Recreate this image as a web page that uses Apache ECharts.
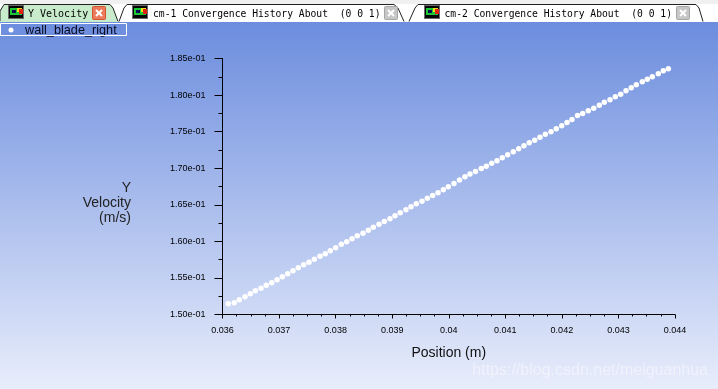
<!DOCTYPE html>
<html>
<head>
<meta charset="utf-8">
<style>html,body{margin:0;padding:0;background:#fff}#c{width:718px;height:389px}</style>
<script src="https://cdn.jsdelivr.net/npm/echarts@6/dist/echarts.min.js"></script>
</head>
<body>
<div id="c"></div>
<script>
const seriesName = 'wall_blade_right';
const positions = [
0.036103,0.036209,0.036297,0.036398,0.036491,0.036580,0.036681,0.036774,0.036870,0.036964,
0.037057,0.037153,0.037246,0.037340,0.037436,0.037529,0.037623,0.037724,0.037817,0.037906,
0.038001,0.038100,0.038196,0.038290,0.038383,0.038484,0.038578,0.038666,0.038767,0.038861,
0.038961,0.039050,0.039143,0.039244,0.039333,0.039426,0.039527,0.039621,0.039716,0.039810,
0.039904,0.039992,0.040093,0.040190,0.040287,0.040376,0.040473,0.040575,0.040664,0.040759,
0.040853,0.040947,0.041042,0.041141,0.041237,0.041330,0.041424,0.041520,0.041613,0.041707,
0.041808,0.041901,0.041997,0.042091,0.042179,0.042276,0.042368,0.042467,0.042563,0.042662,
0.042750,0.042851,0.042945,0.043040,0.043134,0.043227,0.043316,0.043422,0.043510,0.043599,
0.043705,0.043793,0.043882];
const velocities = [
0.151463,0.151600,0.152010,0.152420,0.152830,0.153240,0.153596,0.154006,0.154334,0.154744,
0.155154,0.155565,0.155975,0.156385,0.156795,0.157150,0.157561,0.157971,0.158299,0.158709,
0.159119,0.159611,0.159940,0.160350,0.160760,0.161115,0.161525,0.161936,0.162346,0.162715,
0.163084,0.163494,0.163904,0.164315,0.164725,0.165135,0.165490,0.165901,0.166270,0.166639,
0.167049,0.167459,0.167910,0.168389,0.168826,0.169209,0.169551,0.169961,0.170276,0.170686,
0.171014,0.171424,0.171834,0.172244,0.172655,0.173065,0.173475,0.173830,0.174240,0.174651,
0.174979,0.175389,0.175799,0.176250,0.176660,0.177207,0.177481,0.177850,0.178205,0.178615,
0.179026,0.179354,0.179764,0.180119,0.180584,0.180994,0.181405,0.181815,0.182170,0.182498,
0.182908,0.183319,0.183592];
const xTickLabels = ['0.036','0.037','0.038','0.039','0.04','0.041','0.042','0.043','0.044'];
const yTickLabels = ['1.50e-01','1.55e-01','1.60e-01','1.65e-01','1.70e-01','1.75e-01','1.80e-01','1.85e-01'];
const xTitle = 'Position (m)';
const yTitleLines = ['Y', 'Velocity', '(m/s)'];
const tabTitles = ['Y Velocity', 'cm-1 Convergence History About  (0 0 1)', 'cm-2 Convergence History About  (0 0 1)'];
const watermark = 'https://blog.csdn.net/meiguanhua';

const FONT = '"Liberation Sans", Arial, sans-serif';
const MONO = '"DejaVu Sans Mono", "Liberation Mono", monospace';

function icon(x) {
  return [
    {type:'rect',shape:{x:x,y:5,width:16,height:14},style:{fill:'#6b6b6b'}},
    {type:'rect',shape:{x:x+1,y:6,width:14,height:12},style:{fill:'#050505'}},
    {type:'rect',shape:{x:x+2,y:8,width:12,height:7},style:{fill:'#19c832'}},
    {type:'rect',shape:{x:x+4,y:10,width:4,height:3},style:{fill:'#0a0a50'}},
    {type:'rect',shape:{x:x+9,y:8,width:5,height:4},style:{fill:'#e8e020'}},
    {type:'rect',shape:{x:x+11,y:9,width:4,height:5},style:{fill:'#e02010'}}
  ];
}
function closeBtn(x, fill, stroke) {
  return [
    {type:'rect',shape:{x:x+.5,y:6.5,width:13,height:13,r:1},style:{fill:fill,stroke:stroke,lineWidth:1}},
    {type:'line',shape:{x1:x+4,y1:10,x2:x+10,y2:16},style:{stroke:'#fff',lineWidth:2}},
    {type:'line',shape:{x1:x+10,y1:10,x2:x+4,y2:16},style:{stroke:'#fff',lineWidth:2}}
  ];
}
function tab(points, fill) {
  return {type:'polyline',shape:{points:points},style:{fill:fill,stroke:'#222',lineWidth:1}};
}

const chart = echarts.init(document.getElementById('c'), null, {renderer:'canvas'});
chart.setOption({
  animation:false,
  backgroundColor:'#ffffff',
  grid:{left:222.5,top:58.5,width:452.5,height:256,containLabel:false},
  legend:{
    left:8.5, top:23.5, padding:0, itemWidth:5, itemHeight:5, itemGap:0,
    icon:'circle', selectedMode:false,
    textStyle:{fontFamily:FONT,fontSize:12.7,color:'#0a0a20',padding:[1,0,0,6.5]},
    data:[seriesName]
  },
  xAxis:{
    type:'value',min:0.036,max:0.044,interval:0.001,
    position:'bottom',
    name:xTitle,nameLocation:'middle',nameGap:32,
    nameTextStyle:{fontFamily:FONT,fontSize:14,color:'#111'},
    axisLine:{onZero:false,lineStyle:{color:'#000',width:1}},
    axisTick:{show:true,inside:false,length:4,lineStyle:{color:'#000',width:1}},
    minorTick:{show:true,splitNumber:4,length:2,lineStyle:{color:'#000',width:1}},
    splitLine:{show:false},
    axisLabel:{margin:12,fontFamily:FONT,fontSize:9,color:'#000',
      formatter:(v)=>xTickLabels[Math.round((v-0.036)/0.001)]}
  },
  yAxis:{
    type:'value',min:0.15,max:0.185,interval:0.005,
    axisLine:{show:true,onZero:false,lineStyle:{color:'#000',width:1}},
    axisTick:{show:true,length:8,lineStyle:{color:'#000',width:1}},
    minorTick:{show:true,splitNumber:2,length:4,lineStyle:{color:'#000',width:1}},
    splitLine:{show:false},
    axisLabel:{margin:17,fontFamily:FONT,fontSize:9,color:'#000',
      formatter:(v)=>yTickLabels[Math.round((v-0.15)/0.005)]}
  },
  series:[{
    name:seriesName,type:'scatter',symbol:'circle',symbolSize:5.5,
    itemStyle:{color:'#ffffff',opacity:1},
    silent:true,
    data:positions.map((p,i)=>[p,velocities[i]])
  }],
  graphic:{elements:[
    {type:'rect',z:-10,silent:true,shape:{x:0,y:22,width:718,height:367},
      style:{fill:new echarts.graphic.LinearGradient(0,0,0,1,[
        {offset:0,color:'#6c8dde'},{offset:1,color:'#e8edfb'}])}},
    {type:'rect',z:-9,silent:true,shape:{x:0,y:0,width:718,height:4},style:{fill:'#f0f0f0'}},
    {type:'rect',z:-9,silent:true,shape:{x:0,y:4,width:718,height:18},style:{fill:'#ffffff'}},
    {type:'group',z:-8,silent:true,children:[
      tab([[0,21.5],[0,11],[4,4.5],[110,4.5],[113,8],[118,21.5]],'#c8ebcc'),
      tab([[119,21.5],[124,8],[127,4.5],[394,4.5],[398,8],[404,21.5]],'#ffffff'),
      tab([[409,21.5],[415,8],[418,4.5],[696,4.5],[699,8],[703,21.5]],'#ffffff'),
      {type:'rect',shape:{x:0,y:21,width:118,height:1},style:{fill:'#c8ebcc'}},
      ...icon(8), ...icon(132), ...icon(424),
      {type:'text',style:{x:28,y:14,text:tabTitles[0],font:'10px '+MONO,fill:'#000',verticalAlign:'middle'}},
      {type:'text',style:{x:153,y:14.5,text:tabTitles[1],font:'9.7px '+MONO,fill:'#000',verticalAlign:'middle'}},
      {type:'text',style:{x:444.5,y:14.5,text:tabTitles[2],font:'9.7px '+MONO,fill:'#000',verticalAlign:'middle'}},
      ...closeBtn(92,'#ec7a5c','#d0552f'), ...closeBtn(384,'#c6c6c6','#a6a6a6'), ...closeBtn(676,'#c6c6c6','#a6a6a6')
    ]},
    {type:'rect',z:50,silent:true,shape:{x:0.5,y:23.5,width:126,height:12},style:{fill:'none',stroke:'#ffffff',lineWidth:1}},
    ...yTitleLines.map((t,i)=>({type:'text',z:10,silent:true,
      style:{x:131,y:188+i*15,text:t,font:'14px '+FONT,fill:'#222',align:'right',verticalAlign:'middle'}})),
    {type:'text',z:60,silent:true,style:{x:708,y:371,text:watermark,font:'16px '+FONT,
      fill:'rgba(255,255,255,0.45)',align:'right',verticalAlign:'middle',
      shadowColor:'rgba(120,120,120,0.3)',shadowBlur:1,shadowOffsetX:0,shadowOffsetY:0}}
  ]}
});
</script>
</body>
</html>
